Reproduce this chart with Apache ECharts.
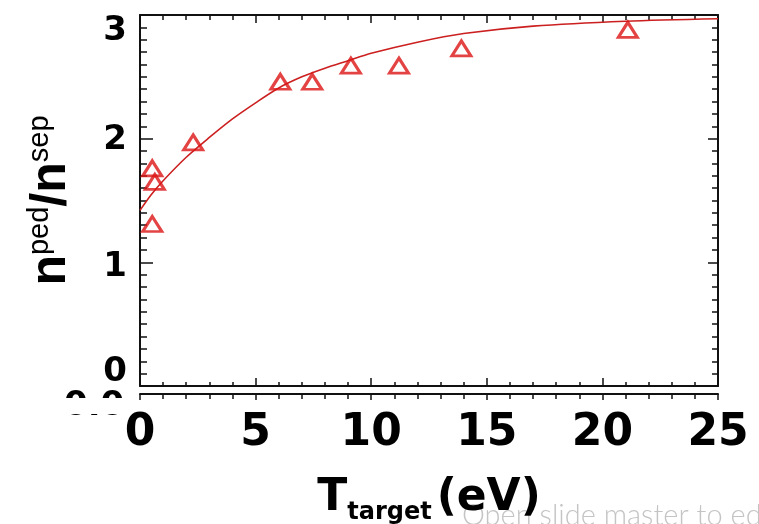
<!DOCTYPE html>
<html>
<head>
<meta charset="utf-8">
<script src="https://cdn.jsdelivr.net/npm/echarts@6/dist/echarts.min.js"></script>
<style>html,body{margin:0;padding:0;background:#fff;}#c{width:759px;height:524px;}</style>
</head>
<body>
<div id="c"></div>
<script>
// measured triangles
const pointX = [0.53, 0.64, 0.53, 2.3, 6.07, 7.45, 9.12, 11.2, 13.9, 21.1];
const pointY = [1.76, 1.65, 1.31, 1.97, 2.46, 2.46, 2.59, 2.59, 2.73, 2.88];
// fitted curve
const curveX = [0, 0.5, 1, 2, 3, 4, 5, 6, 7, 8, 9, 10, 12, 14, 17, 21, 25];
const curveY = [1.42, 1.55, 1.66, 1.85, 2.01, 2.16, 2.29, 2.41, 2.50, 2.57, 2.63, 2.69, 2.78, 2.85, 2.91, 2.95, 2.97];
const xTicks = [0, 5, 10, 15, 20, 25];
const yTicks = [0, 1, 2, 3];

const RED = '#dc1414';
const chart = echarts.init(document.getElementById('c'));
const tickStyle = {color: '#111', width: 1.5};
const lineStyle = {color: '#111', width: 2};

chart.setOption({
  animation: false,
  backgroundColor: '#fff',
  grid: {left: 140, right: 41, top: 15, bottom: 138, containLabel: false, outerBoundsMode: 'none'},
  xAxis: [
    {
      type: 'value', position: 'bottom', min: xTicks[0], max: xTicks[xTicks.length - 1], interval: 5,
      axisLine: {show: true, onZero: false, lineStyle: lineStyle},
      axisTick: {show: true, inside: true, length: 8, lineStyle: tickStyle},
      minorTick: {show: true, splitNumber: 5, length: 4, lineStyle: tickStyle},
      splitLine: {show: false}, minorSplitLine: {show: false},
      axisLabel: {show: true, margin: 26, fontFamily: 'DejaVu Sans', fontWeight: 'bold', fontSize: 44, color: '#000'},
      name: '{T|T}{s|target}{e|(eV)}',
      nameLocation: 'middle', nameGap: 87,
      nameTextStyle: {
        rich: {
          T: {fontFamily: 'DejaVu Sans', fontWeight: 'bold', fontSize: 44, color: '#000'},
          e: {fontFamily: 'DejaVu Sans', fontWeight: 'bold', fontSize: 44, color: '#000', padding: [0, 0, 0, 5]},
          s: {fontFamily: 'DejaVu Sans', fontWeight: 'bold', fontSize: 24, color: '#000', padding: [28, 0, 0, 0]}
        }
      }
    },
    {
      type: 'value', position: 'top', min: 0, max: 25, interval: 5,
      axisLine: {show: true, onZero: false, lineStyle: lineStyle},
      axisTick: {show: true, inside: true, length: 8, lineStyle: tickStyle},
      minorTick: {show: true, splitNumber: 5, length: 5, lineStyle: tickStyle},
      splitLine: {show: false}, axisLabel: {show: false}
    },
    {
      type: 'value', position: 'bottom', offset: 8, min: 0, max: 25, interval: 5,
      axisLine: {show: true, onZero: false, lineStyle: lineStyle},
      axisTick: {show: true, inside: false, length: 6, lineStyle: tickStyle},
      minorTick: {show: true, splitNumber: 5, length: 5, lineStyle: tickStyle},
      splitLine: {show: false}, axisLabel: {show: false}
    }
  ],
  yAxis: [
    {
      type: 'value', position: 'left', min: yTicks[0], max: yTicks[yTicks.length - 1], interval: 1,
      axisLine: {show: true, onZero: false, lineStyle: lineStyle},
      axisTick: {show: true, inside: true, length: 13, lineStyle: tickStyle},
      minorTick: {show: true, splitNumber: 10, length: 7, lineStyle: tickStyle},
      splitLine: {show: false}, minorSplitLine: {show: false},
      axisLabel: {
        show: true, margin: 13, color: '#000',
        formatter: function (v) {
          if (v === 3) return '{t|3}';
          if (v === 0) return '{b|0}';
          if (v === 1) return '{o|1}';
          return '{m|' + v + '}';
        },
        rich: {
          t: {fontFamily: 'DejaVu Sans', fontWeight: 'bold', fontSize: 34, color: '#000', padding: [32, 0, 0, 0]},
          m: {fontFamily: 'DejaVu Sans', fontWeight: 'bold', fontSize: 34, color: '#000', padding: [4, 0, 0, 0]},
          o: {fontFamily: 'DejaVu Sans', fontWeight: 'bold', fontSize: 34, color: '#000', padding: [10, 0, 0, 0]},
          b: {fontFamily: 'DejaVu Sans', fontWeight: 'bold', fontSize: 34, color: '#000', padding: [0, 0, 28, 0]}
        }
      },
      name: '{n|n}{p|ped}{n|/n}{p|sep}',
      nameLocation: 'middle', nameRotate: 90, nameGap: 62,
      nameTextStyle: {
        rich: {
          n: {fontFamily: 'Liberation Sans', fontWeight: 'bold', fontSize: 50, color: '#000'},
          p: {fontFamily: 'Liberation Sans', fontWeight: 'normal', fontSize: 29, color: '#000', padding: [0, 0, 24, 0]}
        }
      }
    },
    {
      type: 'value', position: 'right', min: 0, max: 3, interval: 1,
      axisLine: {show: true, onZero: false, lineStyle: lineStyle},
      axisTick: {show: true, inside: true, length: 10, lineStyle: tickStyle},
      minorTick: {show: true, splitNumber: 10, length: 6, lineStyle: tickStyle},
      splitLine: {show: false}, axisLabel: {show: false}
    }
  ],
  graphic: [
    {type: 'text', z: -10, left: 462, top: 501,
      style: {text: 'Open slide master to edit', fontFamily: 'Lato', fontWeight: 300, fontSize: 29, fill: '#c4c4c4'}},
    {type: 'text', z: -6, left: 64, top: 389,
      style: {text: '0.0', fontFamily: 'DejaVu Sans', fontWeight: 'bold', fontSize: 34, fill: '#000'}},
    {type: 'rect', z: -5, shape: {x: 0, y: 398, width: 137, height: 16}, style: {fill: '#fff'}}
  ],
  series: [
    {
      type: 'line', xAxisIndex: 0, yAxisIndex: 0,
      data: curveX.map((x, i) => [x, curveY[i]]),
      smooth: 0.3, showSymbol: false, symbol: 'none',
      lineStyle: {color: '#cc2020', width: 1.6}, z: 2
    },
    {
      type: 'scatter', xAxisIndex: 0, yAxisIndex: 0,
      data: pointX.map((x, i) => [x, pointY[i]]),
      symbol: 'triangle', symbolSize: [19, 15],
      itemStyle: {color: 'rgba(255,255,255,0)', borderColor: RED, borderWidth: 3}, z: 3
    }
  ]
});
</script>
</body>
</html>
